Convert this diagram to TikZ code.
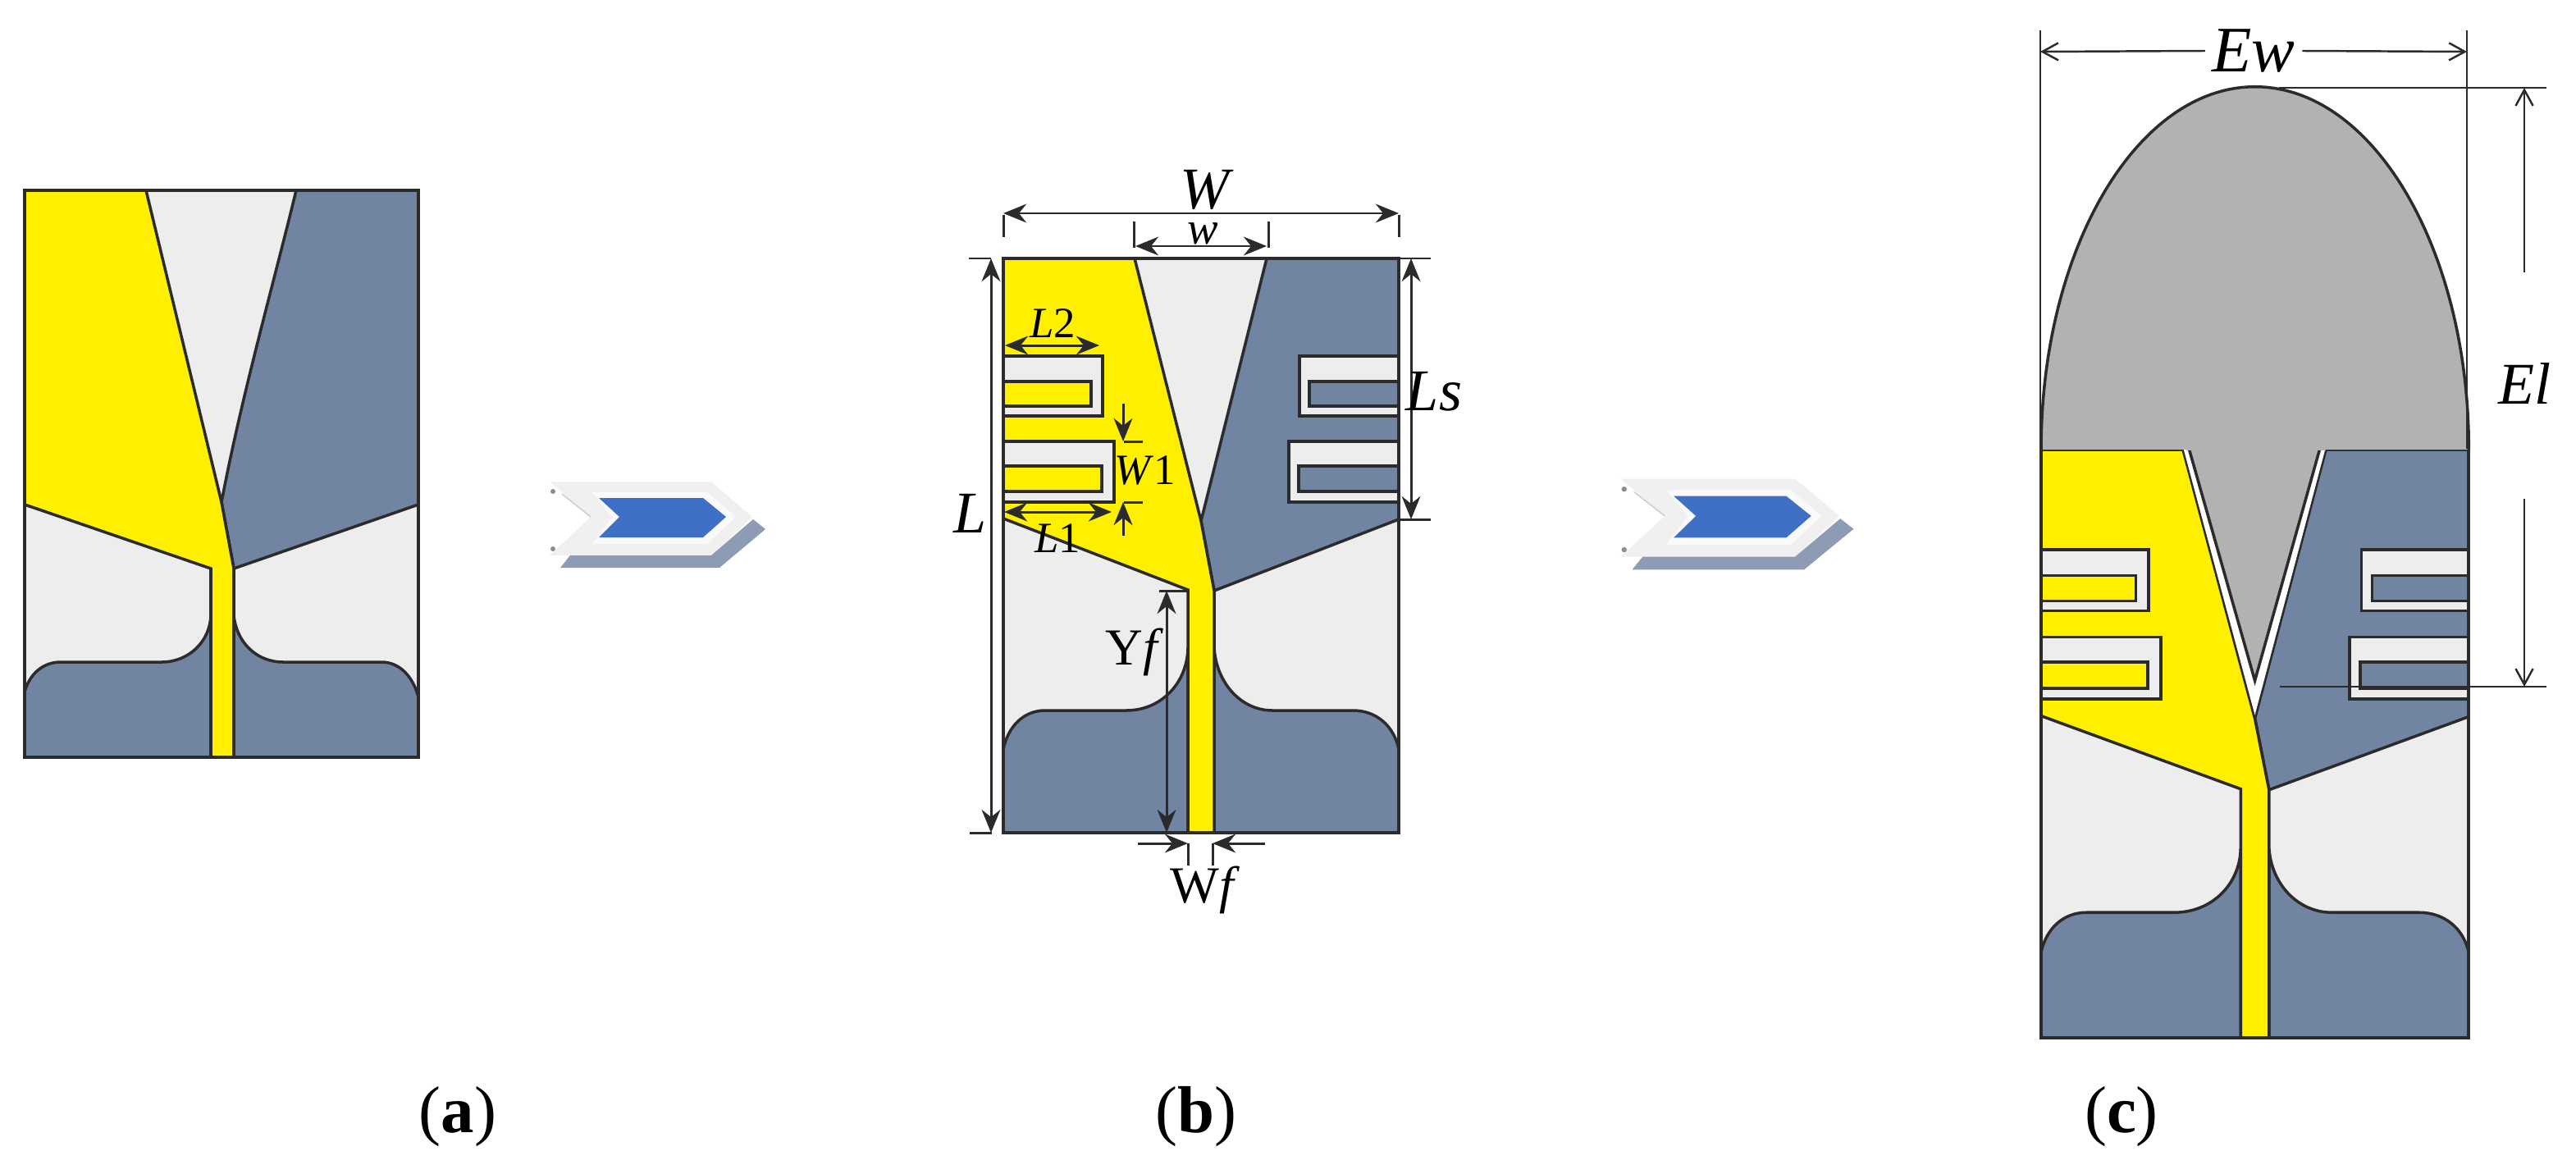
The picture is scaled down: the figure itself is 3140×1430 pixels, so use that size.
\documentclass[tikz,border=0pt]{standalone}
\usepackage{fontspec}
\setmainfont{Liberation Serif}
\usetikzlibrary{arrows.meta}

\definecolor{patchyellow}{HTML}{FFF000}
\definecolor{patchblue}{HTML}{7185A3}
\definecolor{subgrey}{HTML}{EDEDED}
\definecolor{ellgrey}{HTML}{B1B2B1}
\definecolor{inkline}{HTML}{2B2B2B}
\definecolor{arrowshade}{HTML}{8D9BB5}
\definecolor{arrowblue}{HTML}{3F70C6}

% patch drawn on a 482 x 700 box
\newcommand{\patchbody}{
    \fill[subgrey] (0,0) rectangle (482,700);
    \draw[cu, fill=patchblue] (321,0) -- (482,0) -- (482,318) -- (257,405) -- (241,320) -- cycle;
    \draw[cu, fill=patchblue] (0,700) -- (0,598) .. controls (6,570) and (25,551) .. (51,551) -- (150,551) .. controls (192,551) and (224,518) .. (225,475) -- (225,700) -- cycle;
    \draw[cu, fill=patchblue] (257,475) .. controls (260,518) and (290,551) .. (328,551) -- (426,551) .. controls (455,551) and (476,570) .. (482,598) -- (482,700) -- (257,700) -- cycle;
    \draw[cu, fill=patchyellow] (0,0) -- (160,0) -- (241,320) -- (257,405) -- (257,700) -- (225,700) -- (225,404) -- (0,317) -- cycle;
}
\newcommand{\patchslots}{
    \draw[cu, fill=subgrey] (0,119) rectangle (121,192);
    \draw[cu, fill=patchyellow] (0,150) rectangle (107,180);
    \draw[cu, fill=subgrey] (0,223) rectangle (135,297);
    \draw[cu, fill=patchyellow] (0,253) rectangle (120,284);
    \draw[cu, fill=subgrey] (482,119) rectangle (361,192);
    \draw[cu, fill=patchblue] (482,150) rectangle (373,180);
    \draw[cu, fill=subgrey] (482,223) rectangle (348,297);
    \draw[cu, fill=patchblue] (482,253) rectangle (360,284);
}
\newcommand{\patchframe}{
    \draw[cu] (0,0) rectangle (482,700);
}
\newcommand{\stagearrow}[3]{
    \begin{scope}[shift={(#1)}, xscale=#2, yscale=#3]
        \fill[black!6] (30,47) -- (227,47) -- (277,90) -- (227,137) -- (30,137) -- (80,90) -- cycle;
        \fill[black!2] (82,60) -- (222,60) -- (257,90) -- (222,123) -- (82,123) -- (106,90) -- cycle;
        \fill[arrowshade] (43,152) -- (237,152) -- (293,105) -- (278,93) -- (227,137) -- (55,137) -- cycle;
        \fill[arrowblue] (90,67) -- (217,67) -- (245,90) -- (217,115) -- (90,115) -- (115,90) -- cycle;
        \fill[black!45] (34,59) circle (3);
        \fill[black!45] (34,129) circle (3);
        \draw[black!18, line width=.5pt] (45,62) -- (80,90);
    \end{scope}
}

\begin{document}
\begin{tikzpicture}[x=0.01cm, y=-0.01cm,
    cu/.style={draw=inkline, line width=1pt, line join=miter},
    dimline/.style={draw=inkline, line width=.85pt},
    thinline/.style={draw=inkline, line width=.7pt},
    solidtip/.style={dimline, {Stealth[length=8pt,width=6.5pt]}-{Stealth[length=8pt,width=6.5pt]}},
    endtip/.style={dimline, -{Stealth[length=8pt,width=6.5pt]}},
    thintip/.style={thinline, -{Straight Barb[length=5.5pt,width=6pt]}},
    biglabel/.style={font=\fontsize{20.5}{24}\selectfont\itshape, inner sep=0pt},
    midlabel/.style={font=\fontsize{15}{18}\selectfont\itshape, inner sep=0pt},
    feedlabel/.style={font=\fontsize{18}{20}\selectfont, inner sep=0pt},
    sublabel/.style={font=\fontsize{23}{26}\selectfont, inner sep=0pt}]
    \useasboundingbox (0,0) rectangle (3140,1430);

    % (a)
    \fill[subgrey] (30,232) rectangle (510,923);
    \draw[cu, fill=patchblue] (361,232) .. controls (335,340) and (295,480) .. (270,612) -- (285,693) -- (510,615) -- (510,232) -- cycle;
    \draw[cu, fill=patchblue] (30,923) -- (30,843) .. controls (36,822) and (52,807) .. (74,807) -- (197,807) .. controls (230,807) and (256,782) .. (257,750) -- (257,923) -- cycle;
    \draw[cu, fill=patchblue] (285,750) .. controls (288,782) and (312,807) .. (345,807) -- (465,807) .. controls (488,807) and (504,826) .. (510,850) -- (510,923) -- (285,923) -- cycle;
    \draw[cu, fill=patchyellow] (30,232) -- (178,232) -- (270,612) -- (285,693) -- (285,923) -- (257,923) -- (257,693) -- (30,615) -- cycle;
    \draw[cu] (30,232) rectangle (510,923);
    \node[sublabel] (capa) at (558,1361) {(\textbf{a})};

    \stagearrow{640,540}{1}{1}
    \stagearrow{1943,534}{1.08}{1.055}

    % (b)
    \begin{scope}[shift={(1223,315)}]
        \patchbody
        \patchslots
        \patchframe
    \end{scope}
    \node[sublabel] (capb) at (1458,1361) {(\textbf{b})};

    \draw[dimline] (1223,262) -- (1223,289);
    \draw[dimline] (1705,262) -- (1705,289);
    \draw[solidtip] (1223,260) -- (1705,260);
    \node[biglabel] (labW) at (1469,231) {W};
    \draw[dimline] (1382,270) -- (1382,302);
    \draw[dimline] (1546,270) -- (1546,302);
    \draw[solidtip] (1384,300) -- (1544,300);
    \node[midlabel, font=\fontsize{16}{18}\selectfont\itshape] (labw) at (1466,285) {w};

    \draw[dimline] (1181,315) -- (1208,315);
    \draw[dimline] (1182,1015) -- (1209,1015);
    \draw[solidtip] (1208,315) -- (1208,1015);
    \node[biglabel] (labL) at (1183,626) {L};

    \draw[dimline] (1705,315) -- (1744,315);
    \draw[dimline] (1705,633) -- (1744,633);
    \draw[solidtip] (1720,315) -- (1720,633);
    \node[biglabel] (labLs) at (1748,477) {Ls};

    \draw[solidtip] (1225,421) -- (1340,421);
    \node[midlabel] (labLtwo) at (1283,394) {L\textup{2}};
    \draw[solidtip] (1224,624) -- (1355,624);
    \node[midlabel] (labLone) at (1289,656) {L\textup{1}};

    \draw[dimline] (1370,538) -- (1393,538);
    \draw[dimline] (1370,612) -- (1393,612);
    \draw[endtip] (1369,492) -- (1369,538);
    \draw[endtip] (1369,653) -- (1369,612);
    \node[midlabel] (labWone) at (1396,573) {W\textup{1}};

    \draw[dimline] (1413,720) -- (1448,720);
    \draw[solidtip] (1422,720) -- (1422,1015);
    \node[feedlabel] (labYf) at (1383,795) {Y\textit{f}};
    \draw[dimline] (1448,1028) -- (1448,1055);
    \draw[dimline] (1478,1028) -- (1478,1055);
    \draw[endtip] (1387,1028) -- (1448,1028);
    \draw[endtip] (1542,1028) -- (1478,1028);
    \node[feedlabel] (labWf) at (1469,1085) {W\textit{f}};

    % (c)
    \begin{scope}[shift={(2488,548)}, xscale=1.081, yscale=1.024]
        \patchbody
        \patchslots
        \patchframe
        \fill[white] (160,-3) -- (321,-3) -- (241,316) -- cycle;
        \draw[cu, fill=ellgrey] (167,0) -- (241,275) -- (314,0);
    \end{scope}
    \draw[cu, fill=ellgrey] (2488,548) arc (180:0:2.605cm and 4.42cm);
    \fill[ellgrey] (2665,544) rectangle (2835,549);
    \node[sublabel] (capc) at (2586,1361) {(\textbf{c})};

    \draw[thinline] (2487,37) -- (2487,547);
    \draw[thinline] (3007,37) -- (3007,547);
    \node[biglabel, font=\fontsize{22.5}{26}\selectfont\itshape] (labEw) at (2747,62) {Ew};
    \coordinate (ewleft) at (2487,63);
    \coordinate (ewright) at (3007,63);
    \draw[thintip] (labEw.west) ++(-8,0) -- (ewleft);
    \draw[thintip] (labEw.east) ++(8,0) -- (ewright);

    \draw[thinline] (2778,107) -- (3104,107);
    \draw[thinline] (2779,837) -- (3104,837);
    \draw[thintip] (3077,332) -- (3077,107);
    \draw[thintip] (3077,608) -- (3077,837);
    \node[biglabel] (labEl) at (3077,467) {El};
\end{tikzpicture}
\end{document}
